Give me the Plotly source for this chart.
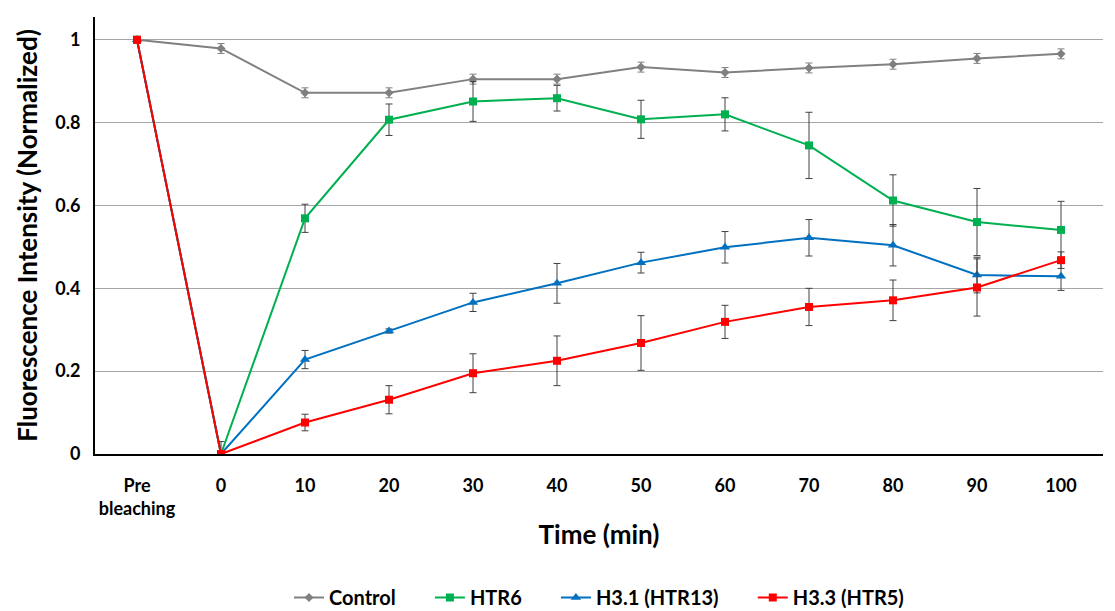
import plotly.graph_objects as go

categories = ["Pre<br>bleaching", "0", "10", "20", "30", "40", "50", "60", "70", "80", "90", "100"]

control = [1.0, 0.979, 0.872, 0.872, 0.905, 0.905, 0.934, 0.921, 0.932, 0.941, 0.955, 0.966]
control_err = [0.0, 0.012, 0.012, 0.012, 0.012, 0.012, 0.012, 0.012, 0.012, 0.012, 0.012, 0.012]

htr6 = [1.0, 0.0, 0.569, 0.807, 0.851, 0.859, 0.808, 0.820, 0.745, 0.612, 0.560, 0.541]
htr6_err = [0.0, 0.03, 0.034, 0.038, 0.048, 0.031, 0.046, 0.040, 0.080, 0.062, 0.081, 0.069]

h31 = [1.0, 0.0, 0.228, 0.297, 0.366, 0.412, 0.462, 0.499, 0.522, 0.504, 0.432, 0.429]
h31_err = [0.0, 0.0, 0.022, 0.005, 0.022, 0.048, 0.025, 0.038, 0.044, 0.050, 0.043, 0.034]

h33 = [1.0, 0.0, 0.076, 0.131, 0.195, 0.225, 0.268, 0.319, 0.355, 0.371, 0.402, 0.468]
h33_err = [0.0, 0.0, 0.020, 0.034, 0.047, 0.060, 0.066, 0.040, 0.045, 0.049, 0.069, 0.020]

legend_names = ["Control", "HTR6", "H3.1 (HTR13)", "H3.3 (HTR5)"]

series = [
    (legend_names[0], control, control_err, "#808080", "diamond", 7, "#808080"),
    (legend_names[1], htr6, htr6_err, "#00B050", "square", 8, "#404040"),
    (legend_names[2], h31, h31_err, "#0070C0", "triangle-up", 9, "#404040"),
    (legend_names[3], h33, h33_err, "#FF0000", "square", 8, "#404040"),
]

pad = "\u00a0" * 6
fig = go.Figure()
for i, (name, vals, errs, color, sym, size, ecolor) in enumerate(series):
    label = name + (pad if i < len(series) - 1 else "")
    fig.add_trace(go.Scatter(
        x=categories, y=vals, name=label, mode="lines+markers",
        line=dict(color=color, width=2),
        marker=dict(symbol=sym, size=size, color=color),
        error_y=dict(type="data", array=errs, visible=True, color=ecolor,
                     thickness=1, width=3.5),
    ))

font_family = "Lato, 'Open Sans', sans-serif"
fig.update_layout(
    width=1107, height=603,
    margin=dict(l=87, r=12, t=9, b=157, autoexpand=False),
    paper_bgcolor="white", plot_bgcolor="white",
    font=dict(family=font_family, color="#000000"),
    showlegend=True,
    legend=dict(orientation="h", x=0.5, xanchor="center", y=-0.373, yanchor="bottom",
                font=dict(size=20, family=font_family, weight="bold"),
                itemwidth=30, tracegroupgap=0),
    xaxis=dict(
        type="category", range=[-0.5, 11.5], automargin=False,
        showline=True, linecolor="#000000", linewidth=2,
        showgrid=False, ticks="", ticklabelstandoff=14,
        tickfont=dict(size=18, weight="bold"),
        title=dict(text="Time (min)", font=dict(size=26, weight="bold"), standoff=8),
    ),
    yaxis=dict(
        range=[0, 1.055], dtick=0.2, tick0=0, automargin=False,
        showline=True, linecolor="#000000", linewidth=2,
        showgrid=True, gridcolor="#A6A6A6", gridwidth=1,
        zeroline=False, ticks="", ticklabelstandoff=9,
        tickfont=dict(size=18, weight="bold"),
        title=dict(text="Fluorescence Intensity (Normalized)", font=dict(size=26, weight="bold"), standoff=10),
    ),
)

fig.write_html("out.html")
